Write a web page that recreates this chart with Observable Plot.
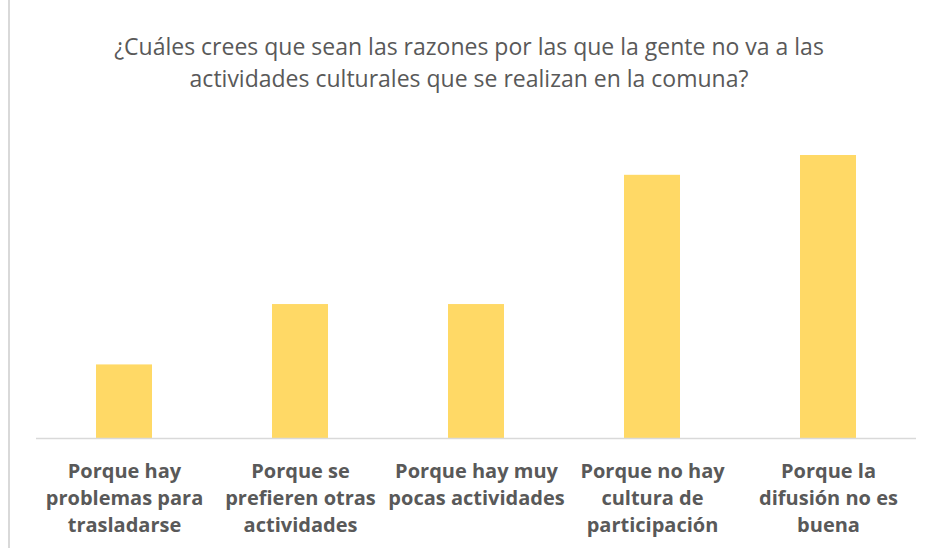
<!DOCTYPE html>
<html>
<head>
<meta charset="utf-8">
<script src="https://cdn.jsdelivr.net/npm/d3@7"></script>
<script src="https://cdn.jsdelivr.net/npm/@observablehq/plot@0.6"></script>
<style>
  html, body { margin: 0; padding: 0; background: #fff; }
  #chart { position: relative; width: 938px; height: 548px; overflow: hidden; background: #fff; }
  #border { position: absolute; left: 8px; top: 0; width: 2px; height: 548px; background: #d9d9d9; }
  #title { position: absolute; left: 0; top: 30px; width: 938px; text-align: center;
           font-family: "Open Sans", sans-serif; font-size: 23px; line-height: 32px; color: #595959; }
  #plot { position: absolute; left: 0; top: 110px; }
</style>
</head>
<body>
<div id="chart">
  <div id="border"></div>
  <div id="title">¿Cuáles crees que sean las razones por las que la gente no va a las<br>actividades culturales que se realizan en la comuna?</div>
  <div id="plot"></div>
</div>
<script>
const categories = [
  "Porque hay problemas para trasladarse",
  "Porque se prefieren otras actividades",
  "Porque hay muy pocas actividades",
  "Porque no hay cultura de participación",
  "Porque la difusión no es buena"
];
const tickLabels = [
  "Porque hay\nproblemas para\ntrasladarse",
  "Porque se\nprefieren otras\nactividades",
  "Porque hay muy\npocas actividades",
  "Porque no hay\ncultura de\nparticipación",
  "Porque la\ndifusión no es\nbuena"
];
const values = [3.9, 7.1, 7.1, 13.95, 15];

const data = categories.map((c, i) => ({category: c, value: values[i]}));
const labelOf = new Map(categories.map((c, i) => [c, tickLabels[i]]));

const chart = Plot.plot({
  width: 938,
  height: 438,
  marginLeft: 36,
  marginRight: 22,
  marginTop: 45,
  marginBottom: 110,
  style: {background: "transparent"},
  x: {domain: categories, paddingInner: 0.682, paddingOuter: 0.341, axis: null},
  y: {domain: [0, 15], axis: null},
  marks: [
    Plot.barY(data, {x: "category", y: "value", fill: "#FFD966"}),
    Plot.ruleY([0], {stroke: "#d9d9d9", strokeWidth: 1.5}),
    Plot.axisX({
      tickSize: 0,
      tickPadding: 20,
      tickFormat: d => labelOf.get(d),
      lineHeight: 1.35,
      fontSize: 20,
      fontWeight: "bold",
      fontFamily: "'Open Sans', sans-serif",
      fill: "#595959",
      label: null
    })
  ]
});
document.getElementById("plot").appendChild(chart);
</script>
</body>
</html>
